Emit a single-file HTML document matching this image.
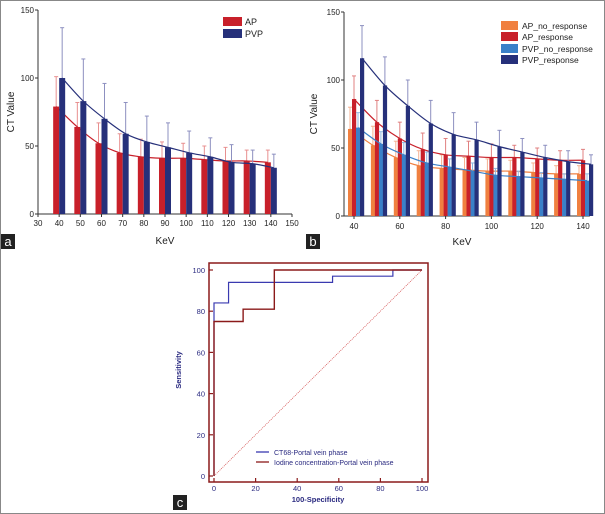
<!DOCTYPE html>
<html><head><meta charset="utf-8"><style>
body{margin:0;background:#fff}
svg{display:block;font-family:"Liberation Sans",sans-serif}
</style></head><body>
<svg id="fig" width="605" height="514" viewBox="0 0 605 514">
<rect x="0.5" y="0.5" width="604" height="513" fill="#fff" stroke="#888"/>
<g id="pa"></g>
<g id="pb"></g>
<g id="pc"></g>
</svg>
<script>
// Panel a data
const aKev=[40,50,60,70,80,90,100,110,120,130,140];
const aAP=[79,64,52,45,42,41,41,40,39,39,38];
const aAPsd=[101,82,67,59,55,53,52,50,49,47,47];
const aPVP=[100,83,70,59,53,49,45,42,38,37,34];
const aPVPsd=[137,114,96,82,72,67,61,56,51,47,44];
const aXTicks=[30,40,50,60,70,80,90,100,110,120,130,140,150];
const aYTicks=[0,50,100,150];
// Panel b data
const bKev=[40,50,60,70,80,90,100,110,120,130,140];
const bAPno=[64,52,43,37,35,34,33,33,32,31,31];
const bAPnoSd=[80,66,55,48,45,43,42,41,39,37,37];
const bAPre=[86,69,57,49,45,44,43,43,42,41,41];
const bAPreSd=[103,85,69,61,57,55,53,52,50,48,49];
const bPVno=[65,53,45,39,36,33,30,29,28,27,26];
const bPVnoSd=[76,62,54,47,42,39,35,33,32,31,31];
const bPVre=[116,96,81,68,60,56,51,47,43,40,38];
const bPVreSd=[140,117,100,85,76,69,63,57,52,48,45];
const bXTicks=[40,60,80,100,120,140];
const bYTicks=[0,50,100,150];
// Panel c data
const cBlueX=[0,0,7,7,57,57,86,86,100];
const cBlueY=[0,84,84,94,94,97,97,100,100];
const cRedX=[0,0,14,14,29,29,100];
const cRedY=[0,75,75,81,81,100,100];
const cTicks=[0,20,40,60,80,100];

const NS="http://www.w3.org/2000/svg";
function mk(parent,tag,attrs,text){const e=document.createElementNS(NS,tag);for(const k in attrs)e.setAttribute(k,attrs[k]);if(text!==undefined)e.textContent=text;parent.appendChild(e);return e;}
function smooth(pts){let d="M"+pts[0][0]+","+pts[0][1];for(let i=0;i<pts.length-1;i++){const p0=pts[Math.max(0,i-1)],p1=pts[i],p2=pts[i+1],p3=pts[Math.min(pts.length-1,i+2)];d+=" C"+(p1[0]+(p2[0]-p0[0])/6)+","+(p1[1]+(p2[1]-p0[1])/6)+" "+(p2[0]-(p3[0]-p1[0])/6)+","+(p2[1]-(p3[1]-p1[1])/6)+" "+p2[0]+","+p2[1];}return d;}
function label(parent,x,y,t,name){const r=mk(parent,"rect",{x:x,y:y,width:14,height:15,fill:"#222"});const tx=mk(parent,"text",{x:x+7,y:y+12,"text-anchor":"middle","font-size":13,fill:"#fff"},t);}

// ---------- Panel A ----------
(function(){
const g=document.getElementById("pa");
const X=v=>38+(v-30)*(254/120), Y=v=>214-v*(204/150);
const ax=mk(g,"path",{d:`M${X(30)},${Y(150)} V${Y(0)} H${X(150)}`,stroke:"#333",fill:"none","stroke-width":1});

aYTicks.forEach(t=>{mk(g,"line",{x1:X(30)-3,x2:X(30),y1:Y(t),y2:Y(t),stroke:"#333"});const e=mk(g,"text",{x:X(30)-4,y:Y(t)+3,"text-anchor":"end","font-size":8,fill:"#222"},t);});
aXTicks.forEach(t=>{mk(g,"line",{x1:X(t),x2:X(t),y1:Y(0),y2:Y(0)+3,stroke:"#333"});const e=mk(g,"text",{x:X(t),y:Y(0)+12,"text-anchor":"middle","font-size":8,fill:"#222"},t);});
const yt=mk(g,"text",{x:14,y:112,"text-anchor":"middle","font-size":10,fill:"#222",transform:"rotate(-90 14 112)"},"CT Value");
const xt=mk(g,"text",{x:165,y:244,"text-anchor":"middle","font-size":10,fill:"#222"},"KeV");
const series=[[aAP,aAPsd,"#c8202a","#e89090",-6],[aPVP,aPVPsd,"#26307a","#8d90c0",0]];
series.forEach(([v,sd,c,ec,off])=>{
 aKev.forEach((k,i)=>{const x=X(k)+off;
  const el=mk(g,"line",{x1:x+3,x2:x+3,y1:Y(sd[i]),y2:Y(v[i]),stroke:ec,"stroke-width":1});
  mk(g,"line",{x1:x+1,x2:x+5,y1:Y(sd[i]),y2:Y(sd[i]),stroke:ec});
  const b=mk(g,"rect",{x:x,y:Y(v[i]),width:6,height:Y(0)-Y(v[i]),fill:c});});
 const p=mk(g,"path",{d:smooth(aKev.map((k,i)=>[X(k)+off+3,Y(v[i])])),stroke:c,fill:"none","stroke-width":1.2});
});
[["AP","#c8202a",17],["PVP","#26307a",29]].forEach(([t,c,y])=>{const r=mk(g,"rect",{x:223,y:y,width:19,height:9,fill:c});const e=mk(g,"text",{x:245,y:y+8,"font-size":9,fill:"#222"},t);});
label(g,1,234,"a","panel-label-a");
})();

// ---------- Panel B ----------
(function(){
const g=document.getElementById("pb");
const X=v=>354+(v-40)*(229/100), Y=v=>216-v*(204/150);
const ax=mk(g,"path",{d:`M344,${Y(150)} V${Y(0)} H${X(143)}`,stroke:"#333",fill:"none"});
bYTicks.forEach(t=>{mk(g,"line",{x1:341,x2:344,y1:Y(t),y2:Y(t),stroke:"#333"});const e=mk(g,"text",{x:340,y:Y(t)+3,"text-anchor":"end","font-size":8,fill:"#222"},t);});
bXTicks.forEach(t=>{mk(g,"line",{x1:X(t),x2:X(t),y1:Y(0),y2:Y(0)+3,stroke:"#333"});const e=mk(g,"text",{x:X(t),y:Y(0)+13,"text-anchor":"middle","font-size":8,fill:"#222"},t);});
const yt=mk(g,"text",{x:317,y:114,"text-anchor":"middle","font-size":10,fill:"#222",transform:"rotate(-90 317 114)"},"CT Value");
const xt=mk(g,"text",{x:462,y:245,"text-anchor":"middle","font-size":10,fill:"#222"},"KeV");
const series=[[bAPno,bAPnoSd,"#f08040","#f5b090",-8],[bAPre,bAPreSd,"#c8202a","#e08080",-4],[bPVno,bPVnoSd,"#3a80c8","#90b8e0",0],[bPVre,bPVreSd,"#26307a","#8d90c0",4]];
series.forEach(([v,sd,c,ec,off])=>{
 bKev.forEach((k,i)=>{const x=X(k)+off-2+4;
  const el=mk(g,"line",{x1:x+2,x2:x+2,y1:Y(sd[i]),y2:Y(v[i]),stroke:ec});
  mk(g,"line",{x1:x,x2:x+4,y1:Y(sd[i]),y2:Y(sd[i]),stroke:ec});
  const b=mk(g,"rect",{x:x,y:Y(v[i]),width:4.2,height:Y(0)-Y(v[i]),fill:c});});
 const p=mk(g,"path",{d:smooth(bKev.map((k,i)=>[X(k)+off+4,Y(v[i])])),stroke:c,fill:"none","stroke-width":1.2});
});
[["AP_no_response","#f08040",21],["AP_response","#c8202a",32],["PVP_no_response","#3a80c8",44],["PVP_response","#26307a",55]].forEach(([t,c,y])=>{const r=mk(g,"rect",{x:501,y:y,width:17,height:9,fill:c});const e=mk(g,"text",{x:522,y:y+8,"font-size":8.5,fill:"#222"},t);});
label(g,306,234,"b","panel-label-b");
})();

// ---------- Panel C ----------
(function(){
const g=document.getElementById("pc");
const X=v=>214+v*2.08, Y=v=>476-v*2.06;
const f=mk(g,"rect",{x:209,y:263,width:219,height:219,fill:"none",stroke:"#8b1a1a","stroke-width":1.5});
cTicks.forEach(t=>{
 mk(g,"line",{x1:209,x2:213,y1:Y(t),y2:Y(t),stroke:"#8b1a1a","stroke-width":1.2});
 const e=mk(g,"text",{x:205,y:Y(t)+3,"text-anchor":"end","font-size":7.5,fill:"#2a2a80"},t);
 mk(g,"line",{x1:X(t),x2:X(t),y1:478,y2:482,stroke:"#8b1a1a","stroke-width":1.2});
 const e2=mk(g,"text",{x:X(t),y:491,"text-anchor":"middle","font-size":7.5,fill:"#2a2a80"},t);});
const yt=mk(g,"text",{x:181,y:370,"text-anchor":"middle","font-size":7.5,"font-weight":"bold",fill:"#2a2a80",transform:"rotate(-90 181 370)"},"Sensitivity");
const xt=mk(g,"text",{x:318,y:502,"text-anchor":"middle","font-size":7.5,"font-weight":"bold",fill:"#2a2a80"},"100-Specificity");
const dg=mk(g,"line",{x1:X(0),y1:Y(0),x2:X(100),y2:Y(100),stroke:"#d04040","stroke-width":0.7,"stroke-dasharray":"1,1"});
const bl=mk(g,"polyline",{points:cBlueX.map((x,i)=>X(x)+","+Y(cBlueY[i])).join(" "),fill:"none",stroke:"#3a3ab0","stroke-width":1.2});
const rl=mk(g,"polyline",{points:cRedX.map((x,i)=>X(x)+","+Y(cRedY[i])).join(" "),fill:"none",stroke:"#8b1a1a","stroke-width":1.4});
[["CT68-Portal vein phase","#3a3ab0",452],["Iodine concentration-Portal vein phase","#8b1a1a",462]].forEach(([t,c,y])=>{mk(g,"line",{x1:256,x2:269,y1:y,y2:y,stroke:c,"stroke-width":1.3});const e=mk(g,"text",{x:274,y:y+3,"font-size":7,fill:"#2a2a80"},t);});
label(g,173,495,"c","panel-label-c");
})();
</script>
</body></html>
